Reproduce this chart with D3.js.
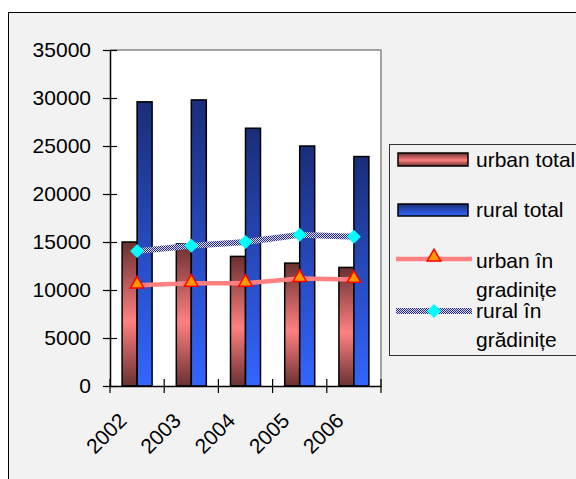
<!DOCTYPE html>
<html><head><meta charset="utf-8">
<script src="https://cdn.jsdelivr.net/npm/d3@7"></script>
<style>body{margin:0;background:#fff}svg{display:block;font-family:"Liberation Sans",Arial,sans-serif}</style>
</head><body>
<script>
const years = ["2002","2003","2004","2005","2006"];
const urbanTotal = [15000, 14800, 13500, 12800, 12350];
const ruralTotal = [29600, 29800, 26850, 25000, 23900];
const urbanGrad = [10500, 10700, 10700, 11200, 11100];
const ruralGrad = [14050, 14600, 15000, 15750, 15550];
const yTicks = [0,5000,10000,15000,20000,25000,30000,35000];
const legendLabels = [["urban total"],["rural total"],["urban în","gradinițe"],["rural în","grădinițe"]];

const W=576,H=479,FS=21;
const svg=d3.select("body").append("svg").attr("width",W).attr("height",H);
const defs=svg.append("defs");
const gu=defs.append("linearGradient").attr("id","gu").attr("x1",0).attr("y1",0).attr("x2",0).attr("y2",1);
[[0,"#6a3030"],[0.55,"#ff8080"],[1,"#6a3030"]].forEach(s=>gu.append("stop").attr("offset",s[0]).attr("stop-color",s[1]));
const gr=defs.append("linearGradient").attr("id","gr").attr("x1",0).attr("y1",0).attr("x2",0).attr("y2",1);
[[0,"#1a2d78"],[1,"#3366ff"]].forEach(s=>gr.append("stop").attr("offset",s[0]).attr("stop-color",s[1]));
const pat=defs.append("pattern").attr("id","chk").attr("patternUnits","userSpaceOnUse").attr("width",2).attr("height",2);
pat.append("rect").attr("width",2).attr("height",2).attr("fill","#d8d8f0");
pat.append("rect").attr("width",1).attr("height",1).attr("fill","#2a2a8a");
pat.append("rect").attr("x",1).attr("y",1).attr("width",1).attr("height",1).attr("fill","#2a2a8a");

// chart area
svg.append("rect").attr("x",8.5).attr("y",12.5).attr("width",W).attr("height",H).attr("fill","#f2f2f2").attr("stroke","#000");

const L=110,R=381,T=50,B=386;
const x=d3.scaleBand().domain(years).range([L,R]);
const y=d3.scaleLinear().domain([0,35000]).range([B,T]);
svg.append("rect").attr("x",L).attr("y",T).attr("width",R-L).attr("height",B-T).attr("fill","#fff");
svg.append("path").attr("d",`M${L},${T}H${R}V${B}`).attr("fill","none").attr("stroke","#888").attr("stroke-width",1.5);

const bw=15;
const gBars=svg.append("g");
years.forEach((yr,i)=>{
  const c=x(yr)+x.bandwidth()/2;
  gBars.append("rect").attr("x",c-bw).attr("y",y(urbanTotal[i])).attr("width",bw).attr("height",B-y(urbanTotal[i]))
    .attr("fill","url(#gu)").attr("stroke","#000").attr("stroke-width",1.5);
  gBars.append("rect").attr("x",c).attr("y",y(ruralTotal[i])).attr("width",bw).attr("height",B-y(ruralTotal[i]))
    .attr("fill","url(#gr)").attr("stroke","#000").attr("stroke-width",1.5);
});

// axes
const yAx=svg.append("g").attr("transform",`translate(${L},0)`).call(d3.axisLeft(y).tickValues(yTicks).tickSize(7).tickSizeOuter(0).tickFormat(d3.format("d")));
yAx.select(".domain").attr("stroke","#000").attr("stroke-width",1.5);
yAx.selectAll(".tick line").attr("x2",7).attr("x1",-7).attr("stroke","#000").attr("stroke-width",1.2);
yAx.selectAll(".tick text").attr("x",-19).attr("font-size",FS).attr("fill","#000").attr("font-family","Liberation Sans, Arial, sans-serif");

const xAx=svg.append("g").attr("transform",`translate(0,${B})`).call(d3.axisBottom(x).tickSize(0).tickSizeOuter(0));
xAx.select(".domain").attr("stroke","#000").attr("stroke-width",1.5);
const xt=[...years.map(d=>x(d)),R];
xAx.selectAll(".xt").data(xt).enter().append("line").attr("x1",d=>d).attr("x2",d=>d).attr("y1",-7).attr("y2",7).attr("stroke","#000").attr("stroke-width",1.2);
xAx.selectAll(".tick text").attr("font-size",FS).attr("fill","#000").attr("font-family","Liberation Sans, Arial, sans-serif")
  .attr("text-anchor","end").attr("dy",0).attr("y",0)
  .attr("transform",`translate(-9,36) rotate(-45)`);

// lines
const cx=(d,i)=>x(years[i])+x.bandwidth()/2;
const line=d3.line().x((d,i)=>cx(d,i)).y(d=>y(d));
svg.append("path").attr("d",line(urbanGrad)).attr("fill","none").attr("stroke","#ff8080").attr("stroke-width",4.5);
svg.append("path").attr("d",line(ruralGrad)).attr("fill","none").attr("stroke","url(#chk)").attr("stroke-width",6);
const tri=d3.symbol().type(d3.symbolTriangle).size(80);
const dia=(s)=>`M0,${-s}L${s},0L0,${s}L${-s},0Z`;
urbanGrad.forEach((v,i)=>svg.append("path").attr("d",tri()).attr("transform",`translate(${cx(v,i)},${y(v)-1})`).attr("fill","#ff9900").attr("stroke","#ff0000").attr("stroke-width",1.5));
ruralGrad.forEach((v,i)=>svg.append("path").attr("d",dia(7)).attr("transform",`translate(${cx(v,i)},${y(v)})`).attr("fill","#00ffff"));

// legend
const lg=svg.append("g");
lg.append("rect").attr("x",389.5).attr("y",144.5).attr("width",200).attr("height",211).attr("fill","#f2f2f2").attr("stroke","#333");
lg.append("rect").attr("x",398).attr("y",153).attr("width",70).attr("height",13).attr("fill","url(#gu)").attr("stroke","#000").attr("stroke-width",1.5);
lg.append("rect").attr("x",398).attr("y",204).attr("width",70).attr("height",12).attr("fill","url(#gr)").attr("stroke","#000").attr("stroke-width",1.5);
lg.append("line").attr("x1",396).attr("x2",472).attr("y1",259).attr("y2",259).attr("stroke","#ff8080").attr("stroke-width",4.5);
lg.append("path").attr("d",tri()).attr("transform","translate(434,257)").attr("fill","#ff9900").attr("stroke","#ff0000").attr("stroke-width",1.5);
lg.append("line").attr("x1",396).attr("x2",472).attr("y1",311).attr("y2",311).attr("stroke","url(#chk)").attr("stroke-width",6);
lg.append("path").attr("d",dia(7)).attr("transform","translate(434,311)").attr("fill","#00ffff");
const base=[[167],[217],[268,297],[318,347]];
legendLabels.forEach((ls,i)=>ls.forEach((t,j)=>lg.append("text").attr("x",476).attr("y",base[i][j]).attr("font-size",FS).attr("fill","#000").text(t)));
</script>
</body></html>
